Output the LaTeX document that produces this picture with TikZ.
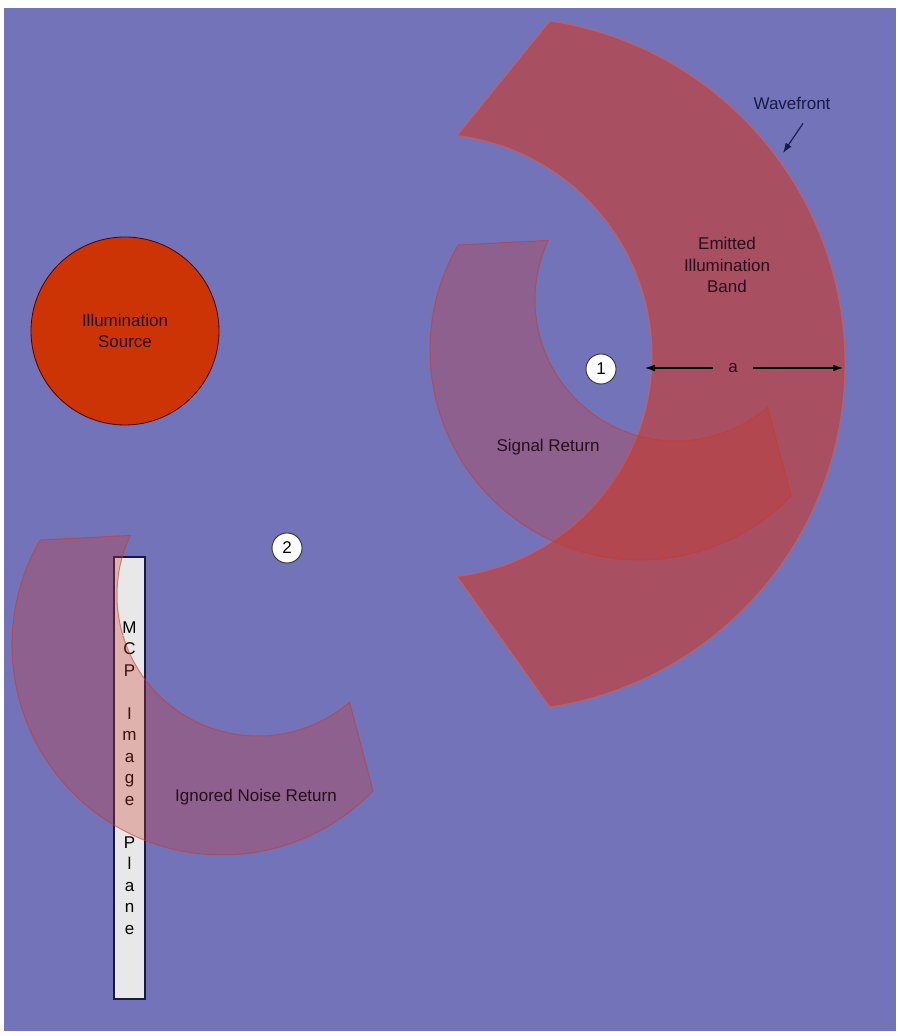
\documentclass[tikz,border=0pt]{standalone}
\usepackage{fontspec}
\setmainfont{Liberation Sans}
\usetikzlibrary{arrows.meta, calc}
\definecolor{bgblue}{RGB}{115,115,185}
\definecolor{bandred}{RGB}{205,55,40}
\definecolor{srcred}{RGB}{205,52,5}
\definecolor{inktext}{RGB}{40,12,30}
\definecolor{navyink}{RGB}{25,25,70}
\definecolor{planegray}{RGB}{232,232,232}
\tikzset{
  emitted/.style={fill=bandred,fill opacity=0.6,draw=bandred!80!white,draw opacity=0.7,line width=1pt},
  echo/.style={fill=bandred,fill opacity=0.3,draw=bandred,draw opacity=0.55,line width=1pt},
  txt/.style={align=center,inner sep=0pt,text=inktext},
  source/.style={circle,draw=black!70!red,line width=0.8pt,fill=srcred,minimum size=188pt,inner sep=0pt,align=center,text=inktext},
  marker/.style={circle,draw=black!80,line width=0.9pt,fill=white,minimum size=30pt,inner sep=0pt},
  planebox/.style={rectangle,draw=navyink,line width=1.2pt,fill=planegray,minimum width=31pt,minimum height=442pt,inner sep=0pt,align=center},
  line/.style={-{Latex[length=10pt,width=7pt]},line width=1.1pt}
}

\begin{document}
\begin{tikzpicture}[x=1pt,y=1pt,font=\fontsize{17}{21.5}\selectfont]
\useasboundingbox (0,0) rectangle (899,1036);
\fill[bgblue] (4,5) rectangle (896,1028);

% centres of the arcs
\coordinate (bandout) at (498,672);
\coordinate (bandin) at (430,680);
\coordinate (sigout) at (640,686);
\coordinate (sigin) at (676,736);
\coordinate (noiseout) at (222,391);
\coordinate (noisein) at (258,441);

\node[source] (src) at (125,705) {Illumination\\Source};

% emitted band
\path[emitted] ($(bandout)+(81.4:347pt)$) arc[start angle=81.4,end angle=-81.4,radius=347pt]
  -- ($(bandin)+(-83:222pt)$) arc[start angle=-83,end angle=83,radius=222pt] -- cycle;

% returns
\path[echo] ($(sigout)+(150:210pt)$) arc[start angle=150,end angle=316,radius=210pt]
  -- ($(sigin)+(310.5:141pt)$) arc[start angle=310.5,end angle=155,radius=141pt] -- cycle;

\node[planebox] (mcp) at (129.5,258) {M\\C\\P\\[21.5pt]I\\m\\a\\g\\e\\[21.5pt]P\\l\\a\\n\\e};

\path[echo] ($(noiseout)+(150:210pt)$) arc[start angle=150,end angle=316,radius=210pt]
  -- ($(noisein)+(310.5:141pt)$) arc[start angle=310.5,end angle=155,radius=141pt] -- cycle;

\node[txt] (emit) at (727,771) {Emitted\\Illumination\\Band};
\node[txt] (sig) at (548,589) {Signal Return};
\node[txt] (noise) at (256,239) {Ignored Noise Return};

\node[marker] (one) at (601,667) {1};
\node[marker] (two) at (287,488) {2};

% width of the band
\coordinate (ain) at (645,668);
\coordinate (aout) at (843,668);
\node[txt,inner xsep=15pt] (alen) at (733,668) {a};
\draw[line] (alen) -- (ain);
\draw[line] (alen) -- (aout);

\node[txt,text=navyink] (wave) at (792,933) {Wavefront};
\coordinate (wavetip) at (783,883);
\draw[line,navyink] ([shift={(11pt,-14pt)}]wave.south) -- (wavetip);
\end{tikzpicture}
\end{document}
